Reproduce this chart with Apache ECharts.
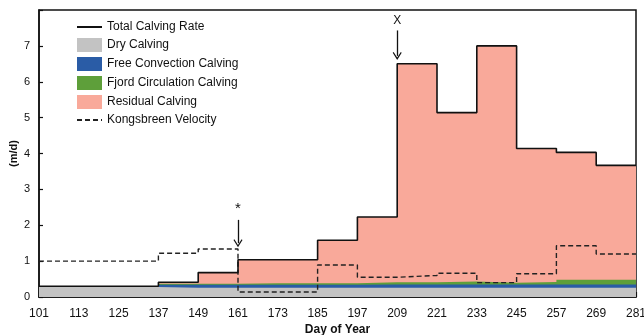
<!DOCTYPE html>
<html>
<head>
<meta charset="utf-8">
<script src="https://cdn.jsdelivr.net/npm/echarts@6/dist/echarts.min.js"></script>
<style>
  html, body { margin: 0; padding: 0; background: #fff; }
  #chart { width: 644px; height: 335px; }
</style>
</head>
<body>
<div id="chart"></div>
<script>
// day-of-year boundaries (start of each 12-day bin, plus the end)
var days = [101, 113, 125, 137, 149, 161, 173, 185, 197, 209, 221, 233, 245, 257, 269, 281];
var xTicks = [101, 113, 125, 137, 149, 161, 173, 185, 197, 209, 221, 233, 245, 257, 269, 281];

// one value per bin (m/d)
var totalRate = [0.3, 0.3, 0.3, 0.41, 0.68, 1.04, 1.04, 1.58, 2.23, 6.5, 5.14, 7.0, 4.14, 4.03, 3.67];
var dryCalving = [0.28, 0.28, 0.28, 0.26, 0.26, 0.26, 0.26, 0.26, 0.26, 0.26, 0.26, 0.26, 0.26, 0.26, 0.26];
var freeConvection = [0, 0, 0, 0.08, 0.08, 0.08, 0.08, 0.08, 0.09, 0.09, 0.09, 0.09, 0.09, 0.09, 0.09];
var fjordCirculation = [0, 0, 0, 0.03, 0.03, 0.04, 0.04, 0.04, 0.06, 0.06, 0.08, 0.05, 0.07, 0.13, 0.13];
var residualCalving = [0, 0, 0, 0.04, 0.31, 0.66, 0.66, 1.2, 1.82, 6.09, 4.71, 6.6, 3.72, 3.55, 3.19];
var velocity = [1.0, 1.0, 1.0, 1.22, 1.34, 0.14, 0.14, 0.89, 0.55, 0.6, 0.66, 0.4, 0.65, 1.43, 1.2];

// annotation arrows: [day, arrow top, arrow tip]
var starNote = [161, 2.15, 1.5];
var xNote = [209, 7.43, 6.72];

function steps(vals) {
    var pts = [];
    for (var i = 0; i < vals.length; i++) {
        pts.push([days[i], vals[i]]);
    }
    pts.push([days[days.length - 1], vals[vals.length - 1]]);
    return pts;
}

// running sum of the calving parts, bottom to top
function addUp(layers) {
    var out = [];
    for (var i = 0; i < layers[0].length; i++) {
        var s = 0;
        for (var k = 0; k < layers.length; k++) s += layers[k][i];
        out.push(+s.toFixed(3));
    }
    return out;
}

var chevron = 'path://M5,0 L10,8 L9,9 L5,2.6 L1,9 L0,8 Z';

function areaSeries(name, vals, color, z) {
    return {
        name: name,
        type: 'line',
        step: 'end',
        symbol: 'none',
        color: color,
        lineStyle: { width: 0 },
        areaStyle: { color: color, opacity: 1 },
        data: steps(vals),
        z: z
    };
}

var myChart = echarts.init(document.getElementById('chart'));
var font = 'Liberation Sans, Arial, sans-serif';
var noMarker = { opacity: 0 };

var option = {
    animation: false,
    textStyle: { fontFamily: font },
    grid: {
        left: 39, right: 8, top: 10, bottom: 38,
        containLabel: false,
        outerBoundsMode: 'none',
        show: true, borderColor: '#111', borderWidth: 1.5
    },
    legend: {
        orient: 'vertical',
        left: 71, top: 16,
        itemWidth: 25, itemHeight: 14, itemGap: 5,
        textStyle: { fontSize: 12, color: '#111', fontFamily: font },
        data: [
            { name: 'Total Calving Rate', itemStyle: noMarker },
            { name: 'Dry Calving', icon: 'rect' },
            { name: 'Free Convection Calving', icon: 'rect' },
            { name: 'Fjord Circulation Calving', icon: 'rect' },
            { name: 'Residual Calving', icon: 'rect' },
            { name: 'Kongsbreen Velocity', itemStyle: noMarker }
        ]
    },
    xAxis: {
        type: 'value',
        min: 101, max: 281,
        name: 'Day of Year',
        nameLocation: 'middle',
        nameGap: 27,
        nameMoveOverlap: false,
        nameTextStyle: { fontSize: 12, fontWeight: 'bold', color: '#111' },
        axisLine: { lineStyle: { color: '#111', width: 1.5 } },
        axisTick: { inside: true, length: 5, lineStyle: { color: '#111', width: 1.2 }, customValues: xTicks },
        axisLabel: { fontSize: 12, color: '#111', margin: 11, customValues: xTicks },
        splitLine: { show: false }
    },
    yAxis: {
        type: 'value',
        min: 0, max: 8, interval: 1,
        name: '(m/d)',
        nameLocation: 'middle',
        nameRotate: 90,
        nameGap: 20,
        nameMoveOverlap: false,
        nameTextStyle: { fontSize: 11, fontWeight: 'bold', color: '#111' },
        axisLine: { show: true, lineStyle: { color: '#111', width: 1.5 } },
        axisTick: { show: true, inside: true, length: 4, lineStyle: { color: '#111', width: 1.2 } },
        axisLabel: {
            fontSize: 11, color: '#111', margin: 9,
            formatter: function (v) { return v === 8 ? '' : v; }
        },
        splitLine: { show: false }
    },
    series: [
        areaSeries('Residual Calving', addUp([dryCalving, freeConvection, fjordCirculation, residualCalving]), '#f9a99a', 1),
        areaSeries('Fjord Circulation Calving', addUp([dryCalving, freeConvection, fjordCirculation]), '#5e9f3a', 1),
        areaSeries('Free Convection Calving', addUp([dryCalving, freeConvection]), '#2a5ca6', 1),
        areaSeries('Dry Calving', dryCalving, '#c3c3c3', 1),
        {
            name: 'Kongsbreen Velocity',
            type: 'line',
            step: 'end',
            symbol: 'none',
            color: '#222',
            lineStyle: { color: '#222', width: 1.4, type: [5, 3] },
            data: steps(velocity),
            z: 3,
            markLine: {
                silent: true,
                symbol: ['none', chevron],
                symbolSize: [9, 8],
                lineStyle: { color: '#111', width: 1.3, type: 'solid' },
                label: { show: true, position: 'start', distance: 4, color: '#111', fontFamily: font },
                data: [
                    [
                        { coord: [starNote[0], starNote[1]], label: { formatter: '*', fontSize: 15 } },
                        { coord: [starNote[0], starNote[2]] }
                    ],
                    [
                        { coord: [xNote[0], xNote[1]], label: { formatter: 'X', fontSize: 12 } },
                        { coord: [xNote[0], xNote[2]] }
                    ]
                ]
            }
        },
        {
            name: 'Total Calving Rate',
            type: 'line',
            step: 'end',
            symbol: 'none',
            color: '#111',
            lineStyle: { color: '#111', width: 1.6 },
            data: steps(totalRate),
            z: 4
        }
    ]
};

myChart.setOption(option, true);
</script>
</body>
</html>
